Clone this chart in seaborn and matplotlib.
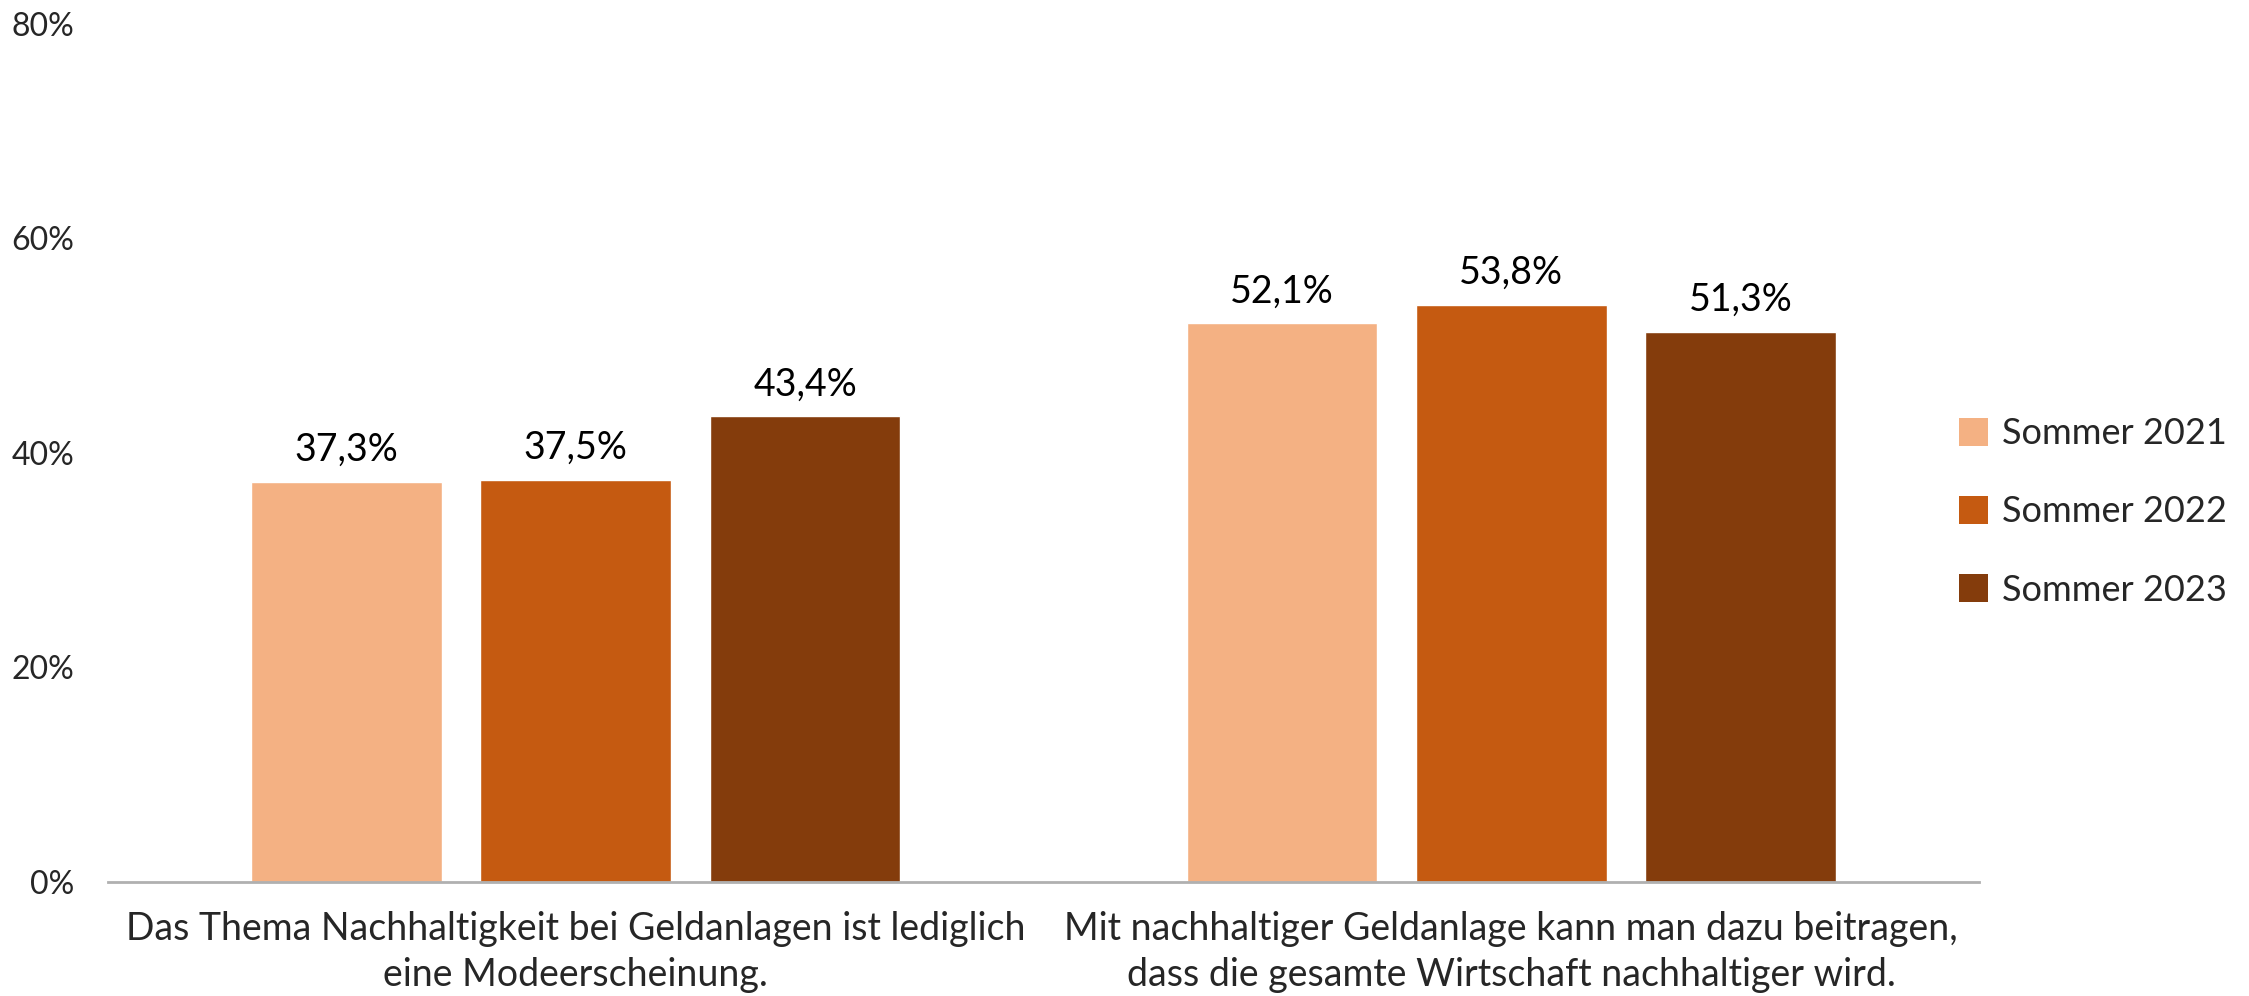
import matplotlib
matplotlib.use("Agg")
import matplotlib.pyplot as plt
import seaborn as sns
import pandas as pd
from matplotlib.patches import Patch

# data
statements = [
    "Das Thema Nachhaltigkeit bei Geldanlagen ist lediglich\neine Modeerscheinung.",
    "Mit nachhaltiger Geldanlage kann man dazu beitragen,\ndass die gesamte Wirtschaft nachhaltiger wird.",
]
waves = ["Sommer 2021", "Sommer 2022", "Sommer 2023"]
share_2021 = [37.3, 52.1]
share_2022 = [37.5, 53.8]
share_2023 = [43.4, 51.3]
y_ticks = [0, 20, 40, 60, 80]

colors = ["#F4B183", "#C55A11", "#843C0C"]

df = pd.DataFrame({
    "statement": statements * 3,
    "wave": [w for w in waves for _ in statements],
    "share": share_2021 + share_2022 + share_2023,
})

sns.set_theme(style="white")
plt.rcParams["font.family"] = ["Lato", "DejaVu Sans"]

fig = plt.figure(figsize=(22.49, 9.96), dpi=100)
ax = fig.add_axes([0.048, 0.1145, 0.832, 0.8615])

sns.barplot(data=df, x="statement", y="share", hue="wave", order=statements,
            hue_order=waves, palette=colors, width=0.7356, gap=0.169,
            saturation=1, legend=False, ax=ax)

for cont in ax.containers:
    ax.bar_label(cont, labels=[f"{v:.1f}".replace(".", ",") + "%" for v in cont.datavalues],
                 padding=10, fontsize=27, color="#000000")

ax.set_xlim(-0.5, 1.5)
ax.set_ylim(0, 80)
ax.set_yticks(y_ticks)
ax.set_yticklabels([f"{t}%" for t in y_ticks], fontsize=23)
ax.tick_params(axis="y", length=0, pad=24)
ax.tick_params(axis="x", length=0, pad=21, labelsize=27)
ax.set_xlabel("")
ax.set_ylabel("")
for lab in ax.get_xticklabels():
    lab.set_ha("center")
    lab.set_multialignment("center")
    lab.set_linespacing(1.35)

for s in ["top", "right", "left"]:
    ax.spines[s].set_visible(False)
ax.spines["bottom"].set_color("#B0B0B0")
ax.spines["bottom"].set_linewidth(2)

handles = [Patch(facecolor=c, edgecolor="none") for c in colors]
fig.legend(handles, waves, loc="center left", bbox_to_anchor=(0.871, 0.486),
           frameon=False, fontsize=26, handlelength=0.8, handleheight=0.8,
           handletextpad=0.4, labelspacing=1.25, borderaxespad=0, borderpad=0)

fig.savefig("out.png", dpi=100)
